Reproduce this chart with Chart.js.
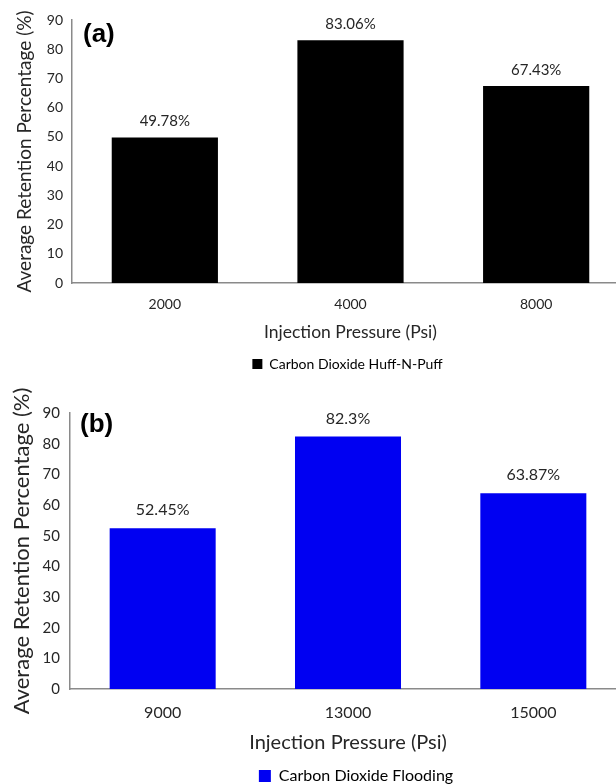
<!DOCTYPE html>
<html>
<head>
<meta charset="utf-8">
<script src="https://cdn.jsdelivr.net/npm/chart.js@4.4.1/dist/chart.umd.min.js"></script>
<style>
  html, body { margin: 0; padding: 0; background: #fff; width: 616px; height: 784px; overflow: hidden; }
  .panel { position: relative; }
  canvas { display: block; }
  .tag { position: absolute; font: bold 26px "Liberation Sans", Arial, sans-serif; color: #000; line-height: 1; }
</style>
</head>
<body>
<div class="panel" style="width:629px;height:381px">
  <canvas id="huffChart" width="629" height="381"></canvas>
  <div class="tag" style="left:83px;top:20px">(a)</div>
</div>
<div class="panel" style="width:626px;height:413px">
  <canvas id="floodChart" width="626" height="413"></canvas>
  <div class="tag" style="left:80px;top:29px">(b)</div>
</div>
<script>
// Injection pressures (psi) and average CO2 retention (%) for each scheme
const huffPressures = ['2000', '4000', '8000'];
const huffRetention = [49.78, 83.06, 67.43];
const floodPressures = ['9000', '13000', '15000'];
const floodRetention = [52.45, 82.3, 63.87];
const retentionMin = 0;
const retentionMax = 90;
const retentionStep = 10;

const FONT = 'Lato';
const AXIS_GREY = '#8a8a8a';
const TEXT_GREY = '#262626';

// Writes each bar's value (with a % sign) just above the bar
const valueLabels = {
  id: 'valueLabels',
  afterDatasetsDraw(chart, args, opts) {
    const ctx = chart.ctx;
    chart.data.datasets.forEach((ds, di) => {
      chart.getDatasetMeta(di).data.forEach((bar, i) => {
        ctx.save();
        ctx.font = `${opts.size}px ${FONT}`;
        ctx.fillStyle = opts.color;
        ctx.textAlign = 'center';
        ctx.textBaseline = 'middle';
        ctx.fillText(ds.data[i] + '%', bar.x, bar.y - opts.offset);
        ctx.restore();
      });
    });
  }
};

// Moves the legend sideways so it sits under the plot rather than the canvas centre
const legendShift = {
  id: 'legendShift',
  afterLayout(chart, args, opts) {
    const lg = chart.legend;
    if (!lg) return;
    lg.left += opts.dx;
    lg.right += opts.dx;
  }
};

function makeChart(canvasId, labels, values, s) {
  return new Chart(document.getElementById(canvasId), {
    type: 'bar',
    data: {
      labels: labels,
      datasets: [{
        label: s.series,
        data: values,
        backgroundColor: s.color,
        borderWidth: 0,
        barPercentage: 0.572,
        categoryPercentage: 1
      }]
    },
    options: {
      responsive: false,
      animation: false,
      devicePixelRatio: 1,
      layout: { padding: { top: s.top, left: 0, right: 0, bottom: 0 } },
      plugins: {
        legend: {
          position: 'bottom',
          labels: {
            boxWidth: s.box, boxHeight: s.box, padding: 4,
            color: '#000', font: { family: FONT, size: s.legendSize }
          }
        },
        tooltip: { enabled: false },
        valueLabels: { size: s.valueSize, offset: s.valueOffset, color: TEXT_GREY },
        legendShift: { dx: s.legendDx }
      },
      scales: {
        x: {
          grid: { display: false, drawTicks: false },
          border: { display: true, color: AXIS_GREY, width: 1.5 },
          ticks: { color: TEXT_GREY, padding: s.xTickPad, font: { family: FONT, size: s.xTickSize } },
          title: {
            display: true, text: 'Injection Pressure (Psi)', color: TEXT_GREY,
            font: { family: FONT, size: s.xTitleSize }, padding: { top: 0, bottom: s.xTitlePad }
          },
          afterFit(scale) { scale.height = s.xHeight; }
        },
        y: {
          min: retentionMin, max: retentionMax,
          grid: { display: false, drawTicks: false },
          border: { display: true, color: AXIS_GREY, width: 1.5 },
          ticks: { stepSize: retentionStep, color: TEXT_GREY, padding: s.yTickPad, font: { family: FONT, size: s.yTickSize } },
          title: {
            display: true, text: 'Average Retention Percentage (%)', color: TEXT_GREY,
            font: { family: FONT, size: s.yTitleSize }, padding: { top: s.yTitlePad, bottom: 0 }
          },
          afterFit(scale) { scale.width = s.yWidth; }
        }
      }
    },
    plugins: [valueLabels, legendShift]
  });
}

makeChart('huffChart', huffPressures, huffRetention, {
  series: 'Carbon Dioxide Huff-N-Puff', color: '#000000',
  top: 20, yWidth: 72, xHeight: 70,
  box: 10, legendSize: 14, legendDx: 33,
  valueSize: 15, valueOffset: 16,
  xTickSize: 14, xTickPad: 13, xTitleSize: 17.5, xTitlePad: 10,
  yTickSize: 14, yTickPad: 9, yTitleSize: 19, yTitlePad: 13
});

makeChart('floodChart', floodPressures, floodRetention, {
  series: 'Carbon Dioxide Flooding', color: '#0000f2',
  top: 32, yWidth: 70, xHeight: 75,
  box: 12, legendSize: 16, legendDx: 43,
  valueSize: 16, valueOffset: 18,
  xTickSize: 16, xTickPad: 14, xTitleSize: 20, xTitlePad: 9,
  yTickSize: 15, yTickPad: 10, yTitleSize: 22, yTitlePad: 9
});
</script>
</body>
</html>
